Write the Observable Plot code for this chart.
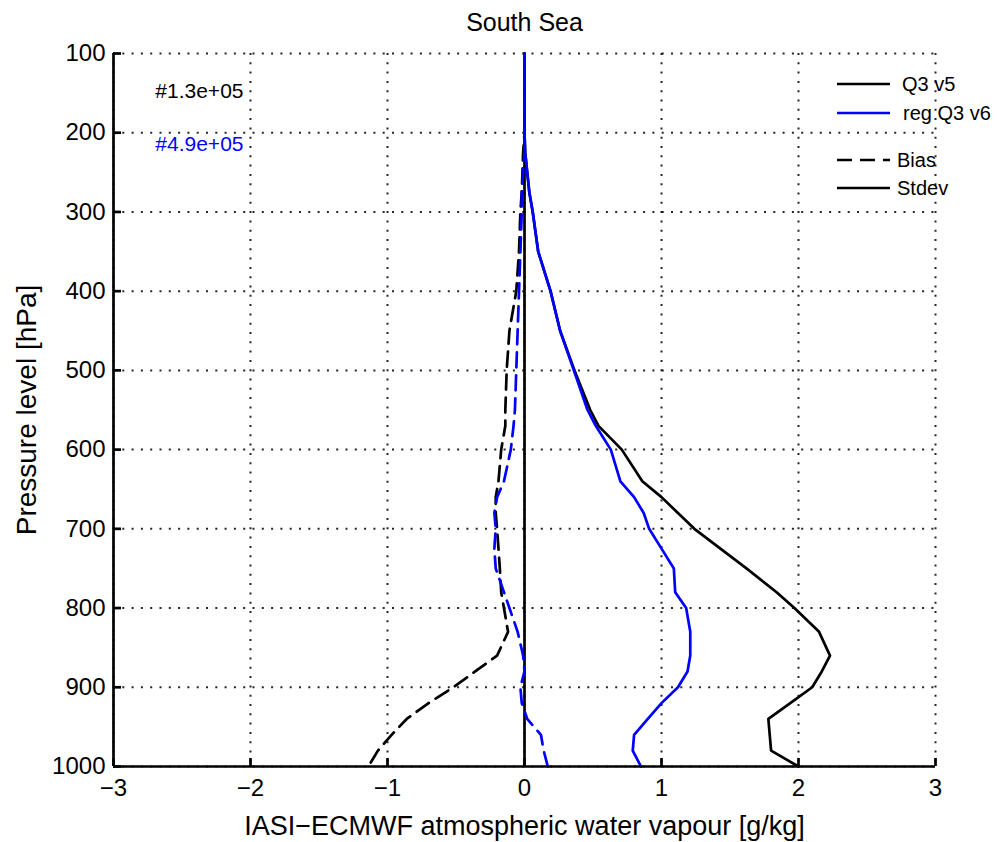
<!DOCTYPE html>
<html><head><meta charset="utf-8">
<script src="https://cdn.jsdelivr.net/npm/d3@7"></script>
<script src="https://cdn.jsdelivr.net/npm/@observablehq/plot@0.6"></script>
<style>body{margin:0;background:#fff;} #chart{width:999px;height:842px;}</style>
</head><body><div id="chart"></div>
<script>
// ---- data ----
const title = "South Sea";
const xLabel = "IASI\u2212ECMWF atmospheric water vapour [g/kg]";
const yLabel = "Pressure level [hPa]";
const xTicks = [-3, -2, -1, 0, 1, 2, 3];
const yTicks = [100, 200, 300, 400, 500, 600, 700, 800, 900, 1000];
const pressure = [100, 150, 200, 225, 250, 275, 300, 350, 400, 450, 500, 550, 570, 600, 640, 660, 680, 700, 725, 750, 780, 800, 830, 860, 880, 900, 920, 940, 960, 980, 1000];
const stdevV5 = [0, 0, 0, 0.005, 0.02, 0.035, 0.06, 0.10, 0.19, 0.26, 0.365, 0.48, 0.54, 0.71, 0.86, 1.0, 1.12, 1.24, 1.43, 1.62, 1.84, 1.97, 2.15, 2.23, 2.17, 2.10, 1.94, 1.78, 1.79, 1.80, 2.00];
const stdevV6 = [0, 0, 0, 0.005, 0.02, 0.035, 0.06, 0.10, 0.19, 0.26, 0.36, 0.46, 0.52, 0.63, 0.70, 0.80, 0.87, 0.91, 1.0, 1.09, 1.10, 1.18, 1.21, 1.21, 1.19, 1.12, 1.0, 0.90, 0.80, 0.79, 0.85];
const biasV5 = [0, 0, 0, -0.01, -0.015, -0.02, -0.03, -0.04, -0.06, -0.11, -0.13, -0.14, -0.14, -0.17, -0.19, -0.21, -0.21, -0.20, -0.19, -0.18, -0.17, -0.15, -0.12, -0.20, -0.36, -0.52, -0.70, -0.86, -0.97, -1.07, -1.14];
const biasV6 = [0, 0, 0, 0, -0.01, -0.02, -0.02, -0.03, -0.04, -0.05, -0.06, -0.07, -0.08, -0.10, -0.15, -0.20, -0.22, -0.21, -0.22, -0.21, -0.15, -0.11, -0.05, -0.01, 0, -0.03, -0.02, 0.02, 0.12, 0.14, 0.17];
const countLabels = ["#1.3e+05", "#4.9e+05"];
const seriesNames = ["Q3 v5", "reg Q3 v6"];
const seriesColors = ["black", "blue"];
const styleNames = ["Bias", "Stdev"];

// ---- tidy rows ----
const rows = pressure.flatMap((p, i) => [
  {p, v: stdevV5[i], series: seriesNames[0], kind: "Stdev"},
  {p, v: stdevV6[i], series: seriesNames[1], kind: "Stdev"},
  {p, v: biasV5[i], series: seriesNames[0], kind: "Bias"},
  {p, v: biasV6[i], series: seriesNames[1], kind: "Bias"}
]);
const pick = (s, k) => rows.filter(d => d.series === s && d.kind === k);

const W = 999, H = 842, mt = 53, mb = 76, ml = 113, mr = 64;
const FONT = "'Liberation Sans', Arial, Helvetica, sans-serif";
const tickPx = 8;
const yTickLen = tickPx * (yTicks[yTicks.length-1] - yTicks[0]) / (H - mt - mb);
const xTickLen = tickPx * (xTicks[xTicks.length-1] - xTicks[0]) / (W - ml - mr);
const dash = "15,8";
const LW = 2.7;
const gridStyle = {stroke: "#000", strokeOpacity: 0.85, strokeWidth: 2, strokeDasharray: "2,7.3"};
const fmt = d => (d < 0 ? "\u2212" : "") + Math.abs(d);

function legend(index, scales, values, dims) {
  const g = d3.create("svg:g").attr("font-family", FONT).attr("text-anchor", "start");
  const right = dims.width - dims.marginRight, top = dims.marginTop;
  const items = [
    {label: seriesNames[0], color: seriesColors[0], dash: null, dy: 31, tx: -33},
    {label: seriesNames[1], color: seriesColors[1], dash: null, dy: 60, tx: -32},
    {label: styleNames[0], color: "black", dash: dash, dy: 107, tx: -38},
    {label: styleNames[1], color: "black", dash: null, dy: 135, tx: -38}
  ];
  for (const it of items) {
    g.append("line").attr("x1", right - 98).attr("x2", right - 45)
      .attr("y1", top + it.dy).attr("y2", top + it.dy)
      .attr("stroke", it.color).attr("stroke-width", LW)
      .attr("stroke-dasharray", it.dash);
    g.append("text").attr("x", right + it.tx).attr("y", top + it.dy)
      .attr("dy", "0.35em").attr("font-size", 20).attr("fill", "black").text(it.label);
  }
  return g.node();
}

const chart = Plot.plot({
  width: W, height: H,
  marginTop: mt, marginBottom: mb, marginLeft: ml, marginRight: mr,
  style: {fontFamily: FONT, background: "white", overflow: "visible"},
  x: {domain: [xTicks[0], xTicks[xTicks.length-1]]},
  y: {domain: [yTicks[0], yTicks[yTicks.length-1]], reverse: true},
  marks: [
    Plot.gridX(xTicks, gridStyle),
    Plot.gridY(yTicks, gridStyle),
    Plot.ruleX([0], {stroke: "black", strokeWidth: LW}),
    Plot.line(pick(seriesNames[0], "Stdev"), {x: "v", y: "p", stroke: seriesColors[0], strokeWidth: LW}),
    Plot.line(pick(seriesNames[1], "Stdev"), {x: "v", y: "p", stroke: seriesColors[1], strokeWidth: LW}),
    Plot.line(pick(seriesNames[0], "Bias"), {x: "v", y: "p", stroke: seriesColors[0], strokeWidth: LW, strokeDasharray: dash}),
    Plot.line(pick(seriesNames[1], "Bias"), {x: "v", y: "p", stroke: seriesColors[1], strokeWidth: LW, strokeDasharray: dash}),
    // axes lines
    Plot.ruleX([xTicks[0]], {stroke: "black", strokeWidth: LW}),
    Plot.ruleY([yTicks[yTicks.length-1]], {stroke: "black", strokeWidth: LW}),
    // inward ticks
    Plot.ruleX(xTicks, {y1: yTicks[yTicks.length-1], y2: yTicks[yTicks.length-1] - yTickLen, stroke: "black", strokeWidth: LW}),
    Plot.ruleY(yTicks, {x1: xTicks[0], x2: xTicks[0] + xTickLen, stroke: "black", strokeWidth: LW}),
    Plot.axisX(xTicks, {tickSize: 0, tickPadding: 12, fontSize: 24, label: null, tickFormat: fmt}),
    Plot.axisY(yTicks, {tickSize: 0, tickPadding: 8, fontSize: 24, label: null, tickFormat: fmt}),
    // labels
    Plot.text([title], {text: d => d, frameAnchor: "top", lineAnchor: "middle", dy: -31, fontSize: 25}),
    Plot.text([xLabel], {text: d => d, frameAnchor: "bottom", lineAnchor: "middle", dy: 60, fontSize: 27}),
    Plot.text([yLabel], {text: d => d, frameAnchor: "left", textAnchor: "middle", lineAnchor: "middle", dx: -86, rotate: -90, fontSize: 28}),
    Plot.text([countLabels[0]], {text: d => d, frameAnchor: "top-left", lineAnchor: "middle", dx: 130, dy: 38, textAnchor: "end", fontSize: 21, fill: seriesColors[0]}),
    Plot.text([countLabels[1]], {text: d => d, frameAnchor: "top-left", lineAnchor: "middle", dx: 130, dy: 91, textAnchor: "end", fontSize: 21, fill: seriesColors[1]}),
    legend
  ]
});
document.getElementById("chart").appendChild(chart);
</script>
</body></html>
